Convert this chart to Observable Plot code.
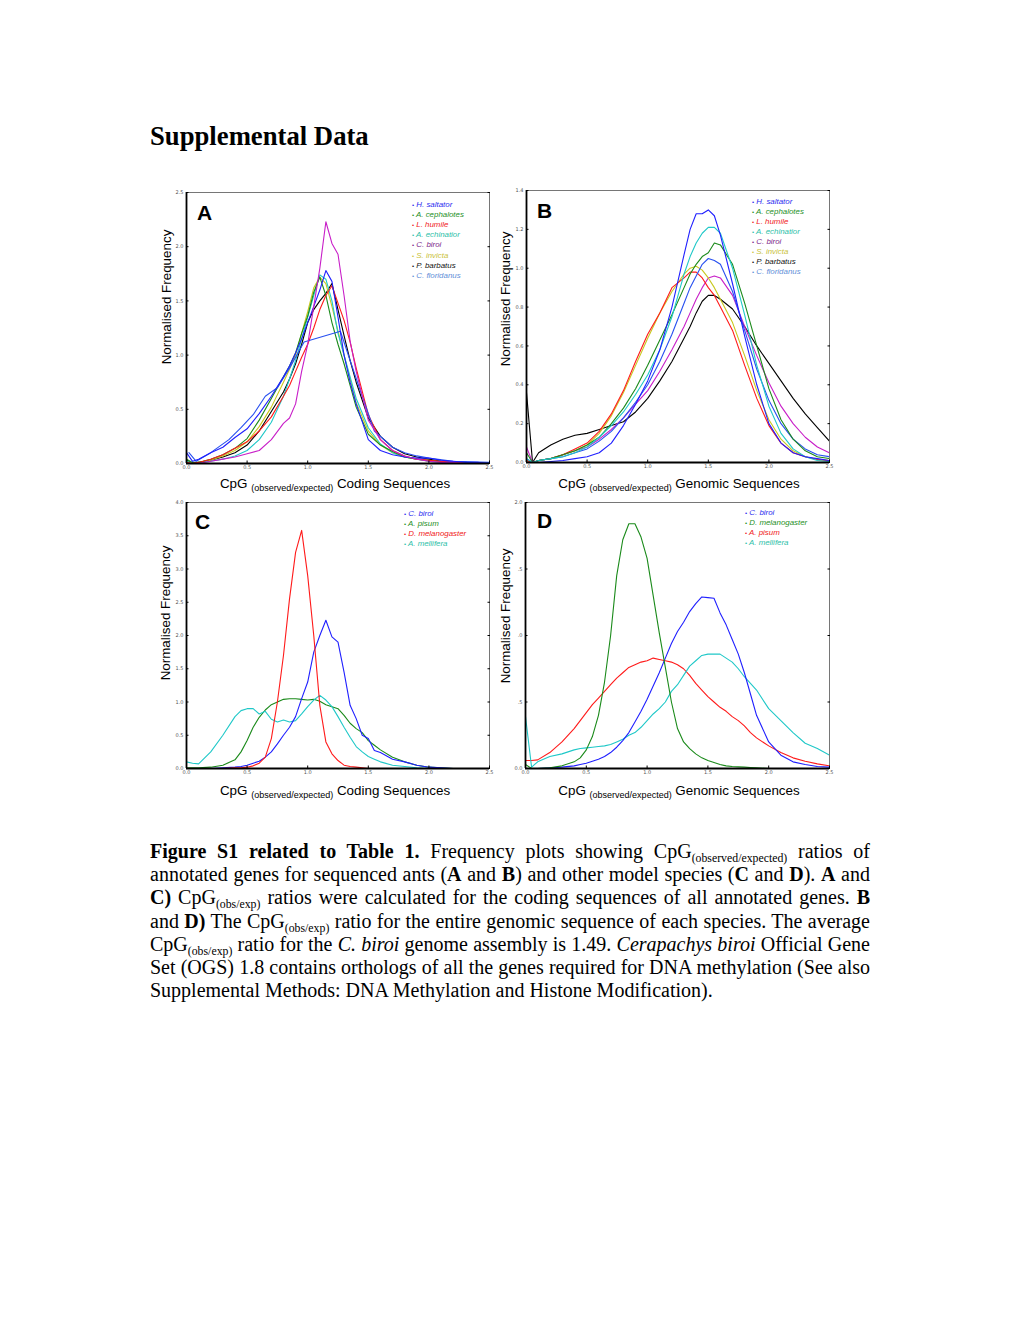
<!DOCTYPE html>
<html><head><meta charset="utf-8">
<script src="https://cdn.jsdelivr.net/npm/d3@7"></script>
<script src="https://cdn.jsdelivr.net/npm/@observablehq/plot@0.6"></script>
<style>
html,body{margin:0;padding:0;background:#fff;}
#page{position:relative;width:1020px;height:1320px;overflow:hidden;font-family:"Liberation Sans",Arial,sans-serif;color:#000;}
.a{position:absolute;white-space:nowrap;line-height:1;}
.plot{position:absolute;}
.leg{font-style:italic;font-size:7.9px;}
.letter{font-weight:bold;font-size:21px;}
.xl{font-size:13.4px;transform:translateX(-50%);}
.xl .s{font-size:9px;vertical-align:-3px;line-height:0;}
.yl{font-size:13.4px;transform:translate(-50%,-50%) rotate(-90deg);}
.title{font-family:"Liberation Serif","Times New Roman",serif;font-weight:bold;font-size:26.7px;}
#cap{position:absolute;left:150px;top:840px;width:720px;font-family:"Liberation Serif","Times New Roman",serif;font-size:20px;line-height:23.2px;}
#cap .ln{text-align:justify;text-align-last:justify;height:23.2px;}
#cap .last{text-align:left;text-align-last:left;}
#cap .sb{font-size:11.8px;vertical-align:-4px;line-height:0;}
</style></head>
<body><div id="page"></div>
<script>
// ---------- shared axis values ----------
const xTicks = [0, 0.5, 1.0, 1.5, 2.0, 2.5];
const xTickLabels = ["0.0", "0.5", "1.0", "1.5", "2.0", "2.5"];
const yTicksA = [0, 0.5, 1.0, 1.5, 2.0, 2.5];
const yTickLabelsA = ["0.0", "0.5", "1.0", "1.5", "2.0", "2.5"];
const yTicksB = [0, 0.2, 0.4, 0.6, 0.8, 1.0, 1.2, 1.4];
const yTickLabelsB = ["0.0", "0.2", "0.4", "0.6", "0.8", "1.0", "1.2", "1.4"];
const yTicksC = [0, 0.5, 1.0, 1.5, 2.0, 2.5, 3.0, 3.5, 4.0];
const yTickLabelsC = ["0.0", "0.5", "1.0", "1.5", "2.0", "2.5", "3.0", "3.5", "4.0"];
const yTicksD = [0, 0.5, 1.0, 1.5, 2.0];
const yTickLabelsD = ["0.0", ".5", ".0", ".5", "2.0"];

// ---------- Panel A: coding sequences, ants ----------
const gridA = [0,0.05,0.1,0.2,0.3,0.4,0.5,0.6,0.7,0.8,0.85,0.9,0.95,1.0,1.05,1.1,1.15,1.2,1.25,1.3,1.35,1.4,1.5,1.6,1.7,1.8,1.9,2.0,2.1,2.2,2.3,2.4,2.5];
const hsaltA = [0.1,0.02,0.04,0.1,0.15,0.24,0.32,0.46,0.62,0.8,0.9,1.02,1.15,1.3,1.45,1.6,1.78,1.68,1.35,1.0,0.75,0.55,0.22,0.12,0.08,0.06,0.05,0.05,0.03,0.02,0.01,0.01,0.0];
const acephA = [0.04,0.01,0.01,0.04,0.08,0.14,0.23,0.4,0.6,0.8,0.9,1.02,1.2,1.36,1.58,1.72,1.55,1.3,1.1,0.92,0.72,0.52,0.27,0.17,0.11,0.06,0.04,0.03,0.02,0.01,0.01,0,0];
const lhumA = [0.01,0,0.01,0.04,0.08,0.14,0.2,0.3,0.43,0.62,0.72,0.85,0.98,1.1,1.25,1.42,1.55,1.64,1.48,1.32,1.12,0.88,0.45,0.22,0.12,0.07,0.04,0.03,0.02,0.01,0.01,0,0];
const aechA = [0.02,0,0.01,0.02,0.04,0.07,0.12,0.22,0.38,0.62,0.78,0.95,1.15,1.35,1.55,1.74,1.7,1.5,1.2,1.0,0.8,0.6,0.33,0.18,0.1,0.06,0.04,0.02,0.01,0.01,0,0,0];
const cbiroA = [0,0,0,0.02,0.04,0.06,0.09,0.12,0.22,0.37,0.42,0.55,0.85,1.1,1.45,1.8,2.23,2.03,1.93,1.55,1.13,0.85,0.4,0.22,0.12,0.07,0.04,0.02,0.01,0.01,0,0,0];
const sinvA = [0.02,0,0.01,0.03,0.07,0.12,0.2,0.34,0.52,0.75,0.87,1.0,1.2,1.4,1.62,1.72,1.66,1.45,1.22,1.0,0.78,0.56,0.3,0.17,0.1,0.06,0.04,0.02,0.01,0.01,0,0,0];
const pbarA = [0.03,0,0.01,0.03,0.06,0.1,0.17,0.3,0.48,0.66,0.78,0.92,1.1,1.3,1.42,1.5,1.57,1.66,1.42,1.18,0.95,0.75,0.42,0.25,0.15,0.09,0.06,0.04,0.02,0.01,0.01,0,0];
const cfloAx = [0.02,0.08,0.2,0.35,0.45,0.55,0.65,0.75,0.85,0.97,1.27,1.35,1.45,1.55,1.7,1.8,1.9,2.0,2.2,2.5];
const cfloA = [0.1,0.02,0.1,0.22,0.33,0.45,0.62,0.7,0.88,1.12,1.22,0.95,0.62,0.3,0.15,0.1,0.07,0.05,0.02,0.01];

// ---------- Panel B: genomic sequences, ants ----------
const gridB = [0,0.05,0.1,0.2,0.3,0.4,0.5,0.6,0.7,0.8,0.9,1.0,1.1,1.2,1.3,1.35,1.4,1.45,1.5,1.55,1.6,1.7,1.8,1.9,2.0,2.1,2.2,2.3,2.4,2.5];
const hsaltB = [0,0,0,0.005,0.01,0.02,0.03,0.05,0.1,0.19,0.3,0.42,0.58,0.8,1.07,1.2,1.28,1.28,1.30,1.27,1.17,0.92,0.65,0.4,0.2,0.1,0.05,0.03,0.02,0.01];
const acephB = [0.05,0,0.01,0.02,0.04,0.06,0.09,0.13,0.2,0.28,0.38,0.5,0.63,0.76,0.9,0.97,1.02,1.06,1.08,1.13,1.12,1.02,0.82,0.6,0.38,0.22,0.12,0.06,0.03,0.02];
const lhumB = [0.01,0,0.01,0.02,0.04,0.07,0.1,0.16,0.25,0.37,0.52,0.66,0.77,0.9,0.95,0.98,0.98,0.95,0.9,0.86,0.8,0.68,0.5,0.33,0.19,0.1,0.05,0.03,0.015,0.01];
const aechB = [0.02,0,0.01,0.02,0.03,0.05,0.08,0.13,0.19,0.26,0.35,0.45,0.58,0.75,0.97,1.06,1.13,1.18,1.21,1.21,1.18,1.0,0.76,0.5,0.29,0.15,0.07,0.03,0.01,0.005];
const cbiroB = [0.08,0,0.01,0.02,0.04,0.06,0.08,0.12,0.17,0.23,0.3,0.37,0.47,0.58,0.7,0.77,0.84,0.9,0.95,0.96,0.95,0.86,0.7,0.55,0.41,0.29,0.2,0.13,0.08,0.05];
const sinvB = [0.01,0,0.01,0.02,0.04,0.06,0.09,0.15,0.24,0.36,0.5,0.64,0.77,0.88,0.97,1.0,1.01,0.99,0.95,0.9,0.84,0.72,0.55,0.37,0.22,0.12,0.06,0.03,0.015,0.01];
const pbarB = [0.36,0,0.05,0.09,0.12,0.14,0.15,0.17,0.19,0.21,0.26,0.33,0.42,0.52,0.64,0.7,0.77,0.83,0.86,0.86,0.84,0.79,0.7,0.6,0.51,0.42,0.33,0.25,0.18,0.11];
const cfloB = [0.02,0,0.01,0.02,0.03,0.05,0.07,0.11,0.16,0.23,0.31,0.4,0.52,0.66,0.82,0.9,0.96,1.02,1.05,1.04,1.02,0.88,0.68,0.48,0.32,0.2,0.12,0.07,0.04,0.03];

// ---------- Panel C: coding sequences, model species ----------
const gridC = [0,0.05,0.1,0.2,0.3,0.4,0.45,0.5,0.55,0.6,0.65,0.7,0.75,0.8,0.85,0.9,0.95,1.0,1.05,1.1,1.15,1.2,1.25,1.3,1.35,1.4,1.45,1.5,1.55,1.6,1.7,1.8,1.9,2.0,2.1,2.2,2.3,2.4,2.5];
const cbiroC = [0,0,0,0,0.01,0.02,0.03,0.05,0.08,0.11,0.17,0.25,0.37,0.5,0.62,0.78,1.05,1.3,1.75,2.0,2.23,1.98,1.9,1.45,0.95,0.75,0.5,0.45,0.27,0.24,0.14,0.1,0.05,0.02,0.01,0,0,0,0];
const pisumC = [0.01,0.01,0.01,0.02,0.05,0.13,0.25,0.42,0.62,0.77,0.88,0.96,1.0,1.04,1.05,1.05,1.04,1.03,1.04,1.01,0.96,0.93,0.9,0.8,0.68,0.6,0.54,0.42,0.35,0.28,0.17,0.1,0.05,0.02,0.01,0,0,0,0];
const dmelC = [0,0,0,0,0,0.01,0.01,0.02,0.04,0.08,0.17,0.45,1.0,1.7,2.55,3.25,3.58,2.9,2.0,0.95,0.4,0.22,0.12,0.05,0.03,0.02,0.01,0,0,0,0,0,0,0,0,0,0,0,0];
const mellC = [0.1,0.08,0.07,0.25,0.5,0.78,0.87,0.9,0.9,0.82,0.86,0.74,0.7,0.73,0.7,0.72,0.82,0.93,1.03,1.1,1.03,0.93,0.78,0.62,0.47,0.33,0.25,0.18,0.14,0.1,0.05,0.03,0.01,0,0,0,0,0,0];

// ---------- Panel D: genomic sequences, model species ----------
const gridD = [0,0.05,0.1,0.2,0.3,0.4,0.45,0.5,0.55,0.6,0.65,0.7,0.75,0.8,0.85,0.9,0.95,1.0,1.05,1.1,1.15,1.2,1.25,1.3,1.35,1.4,1.45,1.5,1.55,1.6,1.65,1.7,1.75,1.8,1.85,1.9,2.0,2.1,2.2,2.3,2.4,2.5];
const cbiroD = [0,0,0,0.005,0.01,0.02,0.03,0.04,0.055,0.07,0.09,0.12,0.16,0.21,0.27,0.35,0.43,0.52,0.62,0.72,0.83,0.94,1.03,1.1,1.18,1.24,1.29,1.285,1.28,1.17,1.08,0.97,0.86,0.72,0.56,0.4,0.2,0.1,0.05,0.03,0.015,0.01];
const dmelD = [0.03,0,0,0.005,0.02,0.05,0.08,0.14,0.24,0.4,0.65,1.0,1.45,1.72,1.84,1.84,1.74,1.58,1.3,1.02,0.76,0.5,0.3,0.2,0.15,0.11,0.08,0.06,0.045,0.03,0.02,0.015,0.012,0.01,0.007,0.005,0,0,0,0,0,0];
const pisumD = [0.06,0.06,0.065,0.12,0.2,0.3,0.36,0.42,0.48,0.53,0.58,0.63,0.68,0.72,0.76,0.78,0.8,0.81,0.83,0.82,0.81,0.8,0.78,0.75,0.7,0.64,0.59,0.54,0.5,0.46,0.43,0.39,0.36,0.32,0.27,0.23,0.17,0.12,0.08,0.055,0.035,0.02];
const mellD = [0.39,0.01,0.05,0.09,0.11,0.14,0.15,0.155,0.16,0.165,0.17,0.18,0.2,0.22,0.25,0.27,0.31,0.36,0.41,0.45,0.5,0.58,0.63,0.7,0.77,0.81,0.85,0.86,0.86,0.86,0.83,0.8,0.75,0.69,0.64,0.59,0.45,0.36,0.27,0.19,0.15,0.1];

// ---------- species names / colours ----------
const antNames = ["H. saltator","A. cephalotes","L. humile","A. echinatior","C. biroi","S. invicta","P. barbatus","C. floridanus"];
const antLineColors = ["#1f1fff","#1a8a1a","#ff1a1a","#1fc8c8","#c81ec8","#c8c81e","#000000","#2850f0"];
const antLegendColors = ["#2b2bef","#1e8f1e","#f02020","#2cc0a8","#7d1f8a","#c9c23a","#111111","#5f8fd8"];
const namesC = ["C. biroi","A. pisum","D. melanogaster","A. mellifera"];
const colorsC = ["#1f1fff","#1a8a1a","#ff1a1a","#1fc8c8"];
const legendColorsC = ["#2b2bef","#1e8f1e","#f02020","#2cc0a8"];
const namesD = ["C. biroi","D. melanogaster","A. pisum","A. mellifera"];
const colorsD = ["#1f1fff","#1a8a1a","#ff1a1a","#1fc8c8"];
const legendColorsD = ["#2b2bef","#1e8f1e","#f02020","#2cc0a8"];

// ---------- build ----------
const page = document.getElementById("page");
function el(cls, html, style) {
  const d = document.createElement("div");
  d.className = cls; d.innerHTML = html;
  Object.assign(d.style, style); page.appendChild(d); return d;
}

function makePanel(cfg) {
  const marks = [Plot.frame({stroke: "#555", strokeWidth: 0.8})];
  cfg.series.forEach(s => {
    const xs = s.xs || cfg.grid;
    const rows = xs.map((x, i) => ({x, y: s.ys[i]}));
    marks.push(Plot.line(rows, {x: "x", y: "y", stroke: s.color, strokeWidth: 1.1, clip: true}));
  });
  marks.push(Plot.ruleX([0], {stroke: "#000", strokeWidth: 1.8}));
  marks.push(Plot.ruleY([0], {stroke: "#000", strokeWidth: 1.8}));
  marks.push(Plot.axisX({ticks: xTicks, tickFormat: d => xTickLabels[xTicks.indexOf(d)], tickSize: 0, tickPadding: 1.5, fontSize: 5, color: "#555", label: null}));
  marks.push(Plot.axisY({ticks: cfg.yTicks, tickFormat: d => cfg.yLabels[cfg.yTicks.indexOf(d)], tickSize: 0, tickPadding: 3, fontSize: 5, color: "#555", label: null}));
  marks.push(Plot.axisY({ticks: cfg.yTicks, tickFormat: () => "", tickSize: -2.5, color: "#000", label: null}));
  marks.push(Plot.axisY({anchor: "right", ticks: cfg.yTicks, tickFormat: () => "", tickSize: -2.5, color: "#000", label: null}));
  marks.push(Plot.axisX({ticks: xTicks, tickFormat: () => "", tickSize: -2.5, color: "#000", label: null}));
  const svg = Plot.plot({
    width: cfg.w, height: cfg.h,
    marginLeft: cfg.ml, marginRight: cfg.mr, marginTop: cfg.mt, marginBottom: cfg.mb,
    x: {domain: [0, 2.5]},
    y: {domain: cfg.yDomain},
    style: {background: "transparent", fontFamily: "'DejaVu Sans', sans-serif", overflow: "visible"},
    marks
  });
  const wrap = el("plot", "", {left: cfg.left + "px", top: cfg.top + "px"});
  wrap.appendChild(svg);
  el("a letter", cfg.letter, {left: cfg.letterX + "px", top: (cfg.letterY - 10.5) + "px"});
  cfg.legend.names.forEach((n, i) => {
    el("a leg", "<span style='font-style:normal;font-size:6px'>&#8226;</span> " + n,
      {left: cfg.legend.x + "px", top: (cfg.legend.y + i * cfg.legend.step - 3.95) + "px", color: cfg.legend.colors[i]});
  });
  el("a xl", "CpG <span class='s'>(observed/expected)</span> " + cfg.xTitle, {left: cfg.xlX + "px", top: (cfg.xlY - 6.7) + "px"});
  el("a yl", "Normalised Frequency", {left: cfg.ylX + "px", top: cfg.ylY + "px"});
}

el("a title", "Supplemental Data", {left: "150px", top: "122.5px"});

makePanel({
  left: 150, top: 180, w: 350, h: 300, ml: 36, mr: 11, mt: 12, mb: 17,
  grid: gridA, yDomain: [0, 2.5], yTicks: yTicksA, yLabels: yTickLabelsA,
  series: [
    {ys: pbarA, color: antLineColors[6]},
    {ys: sinvA, color: antLineColors[5]},
    {ys: aechA, color: antLineColors[3]},
    {ys: acephA, color: antLineColors[1]},
    {ys: lhumA, color: antLineColors[2]},
    {xs: cfloAx, ys: cfloA, color: antLineColors[7]},
    {ys: hsaltA, color: antLineColors[0]},
    {ys: cbiroA, color: antLineColors[4]}
  ],
  letter: "A", letterX: 197, letterY: 212,
  legend: {names: antNames, colors: antLegendColors, x: 412, y: 205, step: 10.1},
  xTitle: "Coding Sequences", xlX: 335, xlY: 484, ylX: 167, ylY: 297
});

makePanel({
  left: 490, top: 180, w: 350, h: 300, ml: 36, mr: 11, mt: 10, mb: 18,
  grid: gridB, yDomain: [0, 1.4], yTicks: yTicksB, yLabels: yTickLabelsB,
  series: [
    {ys: pbarB, color: antLineColors[6]},
    {ys: cbiroB, color: antLineColors[4]},
    {ys: sinvB, color: antLineColors[5]},
    {ys: lhumB, color: antLineColors[2]},
    {ys: cfloB, color: antLineColors[7]},
    {ys: acephB, color: antLineColors[1]},
    {ys: aechB, color: antLineColors[3]},
    {ys: hsaltB, color: antLineColors[0]}
  ],
  letter: "B", letterX: 537, letterY: 210,
  legend: {names: antNames, colors: antLegendColors, x: 752, y: 202, step: 10},
  xTitle: "Genomic Sequences", xlX: 679, xlY: 484, ylX: 506, ylY: 299
});

makePanel({
  left: 150, top: 490, w: 350, h: 300, ml: 36, mr: 11, mt: 12, mb: 22,
  grid: gridC, yDomain: [0, 4.0], yTicks: yTicksC, yLabels: yTickLabelsC,
  series: [
    {ys: pisumC, color: colorsC[1]},
    {ys: mellC, color: colorsC[3]},
    {ys: cbiroC, color: colorsC[0]},
    {ys: dmelC, color: colorsC[2]}
  ],
  letter: "C", letterX: 195, letterY: 521,
  legend: {names: namesC, colors: legendColorsC, x: 404, y: 514, step: 10},
  xTitle: "Coding Sequences", xlX: 335, xlY: 791, ylX: 166, ylY: 613
});

makePanel({
  left: 490, top: 490, w: 350, h: 300, ml: 35, mr: 11, mt: 12, mb: 22,
  grid: gridD, yDomain: [0, 2.0], yTicks: yTicksD, yLabels: yTickLabelsD,
  series: [
    {ys: pisumD, color: colorsD[2]},
    {ys: mellD, color: colorsD[3]},
    {ys: cbiroD, color: colorsD[0]},
    {ys: dmelD, color: colorsD[1]}
  ],
  letter: "D", letterX: 537, letterY: 520,
  legend: {names: namesD, colors: legendColorsD, x: 745, y: 513, step: 10},
  xTitle: "Genomic Sequences", xlX: 679, xlY: 791, ylX: 506, ylY: 616
});

// caption
const cap = el("", "", {});
cap.id = "cap";
cap.innerHTML = [
  "<div class='ln'><b>Figure S1 related to Table 1.</b> Frequency plots showing CpG<span class='sb'>(observed/expected)</span> ratios of</div>",
  "<div class='ln'>annotated genes for sequenced ants (<b>A</b> and <b>B</b>) and other model species (<b>C</b> and <b>D</b>). <b>A</b> and</div>",
  "<div class='ln'><b>C)</b> CpG<span class='sb'>(obs/exp)</span> ratios were calculated for the coding sequences of all annotated genes. <b>B</b></div>",
  "<div class='ln'>and <b>D)</b> The CpG<span class='sb'>(obs/exp)</span> ratio for the entire genomic sequence of each species. The average</div>",
  "<div class='ln'>CpG<span class='sb'>(obs/exp)</span> ratio for the <i>C. biroi</i> genome assembly is 1.49. <i>Cerapachys biroi</i> Official Gene</div>",
  "<div class='ln'>Set (OGS) 1.8 contains orthologs of all the genes required for DNA methylation (See also</div>",
  "<div class='ln last'>Supplemental Methods: DNA Methylation and Histone Modification).</div>"
].join("");
</script>
</body></html>
